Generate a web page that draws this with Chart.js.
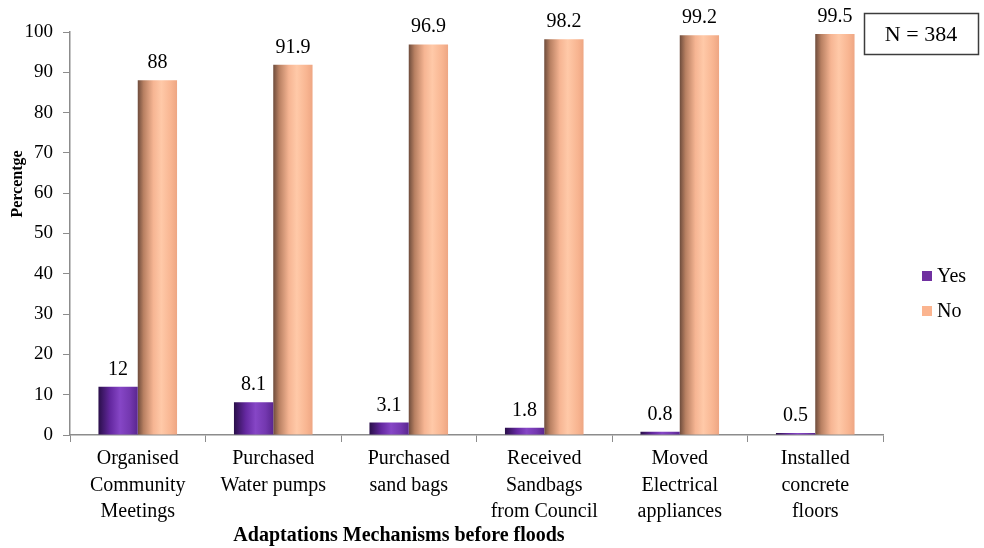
<!DOCTYPE html>
<html>
<head>
<meta charset="utf-8">
<script src="https://cdn.jsdelivr.net/npm/chart.js@4/dist/chart.umd.min.js"></script>
<style>
  html, body { margin: 0; padding: 0; background: #ffffff; }
  #wrap { width: 984px; height: 548px; position: relative; }
</style>
</head>
<body>
<div id="wrap"><canvas id="chart" width="984" height="548"></canvas></div>
<script>
// Adaptation mechanisms households used before floods (share of respondents, %)
const categories = [
  ['Organised', 'Community', 'Meetings'],
  ['Purchased', 'Water pumps'],
  ['Purchased', 'sand bags'],
  ['Received', 'Sandbags', 'from Council'],
  ['Moved', 'Electrical', 'appliances'],
  ['Installed', 'concrete', 'floors']
];
const yesValues = [12, 8.1, 3.1, 1.8, 0.8, 0.5];
const noValues = [88, 91.9, 96.9, 98.2, 99.2, 99.5];
const seriesNames = ['Yes', 'No'];
const sampleNote = 'N = 384';
const yTitle = 'Percentge';
const xTitle = 'Adaptations Mechanisms before floods';

const SERIF = '"Liberation Serif", "Times New Roman", serif';
const legendColors = ['#7030a0', '#fbb48f'];
// horizontal shading across each bar, left edge to right edge
const ramps = [
  [[0, '#2a0f4a'], [0.3, '#6428a0'], [0.55, '#8646c6'], [0.8, '#7438b0'], [1, '#5a2690']],
  [[0, '#6e4c3c'], [0.15, '#b88062'], [0.4, '#f6b593'], [0.6, '#ffc9a8'], [0.85, '#f8b591'], [1, '#eea683']]
];

const shadePlugin = {
  id: 'barShade',
  beforeDatasetsDraw(chart) {
    const ctx = chart.ctx;
    chart.data.datasets.forEach((ds, i) => {
      chart.getDatasetMeta(i).data.forEach(bar => {
        const l = bar.x - bar.width / 2, r = bar.x + bar.width / 2;
        const g = ctx.createLinearGradient(l, 0, r, 0);
        ramps[i].forEach(([p, c]) => g.addColorStop(p, c));
        bar.options = Object.assign({}, bar.options, { backgroundColor: g });
      });
    });
  }
};

const labelPlugin = {
  id: 'valueLabels',
  afterDatasetsDraw(chart) {
    const ctx = chart.ctx;
    ctx.save();
    ctx.font = '20px ' + SERIF;
    ctx.fillStyle = '#000';
    ctx.textAlign = 'center';
    ctx.textBaseline = 'alphabetic';
    chart.data.datasets.forEach((ds, i) => {
      chart.getDatasetMeta(i).data.forEach((bar, j) => {
        ctx.fillText(String(ds.data[j]), bar.x, bar.y - 12);
      });
    });
    ctx.restore();
  }
};

const sidePlugin = {
  id: 'sideItems',
  afterDraw(chart) {
    const ctx = chart.ctx;
    ctx.save();
    // sample size box
    ctx.strokeStyle = '#3c3c3c';
    ctx.lineWidth = 1.5;
    ctx.strokeRect(864.5, 13.5, 114, 41);
    ctx.font = '22px ' + SERIF;
    ctx.fillStyle = '#000';
    ctx.textAlign = 'center';
    ctx.textBaseline = 'middle';
    ctx.fillText(sampleNote, 921, 35);
    // legend
    ctx.font = '20px ' + SERIF;
    ctx.textAlign = 'left';
    const ys = [276, 311];
    chart.data.datasets.forEach((ds, i) => {
      ctx.fillStyle = legendColors[i];
      ctx.fillRect(922, ys[i] - 5, 10, 10);
      ctx.fillStyle = '#000';
      ctx.fillText(ds.label, 937, ys[i] + 1);
    });
    // axis titles
    ctx.font = 'bold 20px ' + SERIF;
    ctx.textAlign = 'center';
    ctx.fillText(xTitle, 399, 536);
    ctx.translate(18, 184);
    ctx.rotate(-Math.PI / 2);
    ctx.font = 'bold 16px ' + SERIF;
    ctx.fillText(yTitle, 0, 0);
    ctx.restore();
  }
};

new Chart(document.getElementById('chart'), {
  type: 'bar',
  data: {
    labels: categories,
    datasets: [
      { label: seriesNames[0], data: yesValues, backgroundColor: legendColors[0], borderWidth: 0 },
      { label: seriesNames[1], data: noValues, backgroundColor: legendColors[1], borderWidth: 0 }
    ]
  },
  options: {
    responsive: false,
    animation: false,
    layout: { padding: { top: 32, right: 101, bottom: 0, left: 0 } },
    datasets: { bar: { categoryPercentage: 0.58, barPercentage: 1.0 } },
    plugins: { legend: { display: false }, tooltip: { enabled: false } },
    scales: {
      x: {
        border: { color: '#8c8c8c', width: 1.5 },
        grid: { display: true, drawOnChartArea: false, drawTicks: true, tickLength: 7, color: '#8c8c8c', offset: true },
        ticks: { color: '#000', font: { family: SERIF, size: 20, lineHeight: 1.32 }, padding: 4, maxRotation: 0, autoSkip: false },
        afterFit(scale) { scale.height = 113; }
      },
      y: {
        min: 0, max: 100,
        border: { color: '#8c8c8c', width: 1.5 },
        grid: { display: true, drawOnChartArea: false, drawTicks: true, tickLength: 7, color: '#8c8c8c' },
        ticks: { stepSize: 10, color: '#000', font: { family: SERIF, size: 19 }, padding: 10 },
        afterFit(scale) { scale.width = 70; }
      }
    }
  },
  plugins: [shadePlugin, labelPlugin, sidePlugin]
});
</script>
</body>
</html>
